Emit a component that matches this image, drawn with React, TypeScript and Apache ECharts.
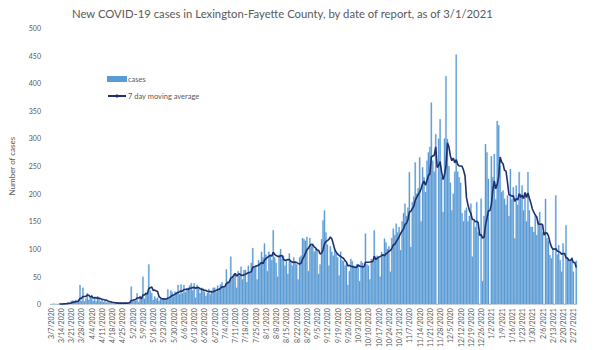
import React, { useEffect, useRef } from "react";
import * as echarts from "echarts";

// Daily new cases, one row per week starting Saturday 3/7/2020, ending 3/1/2021
const casesByWeek: number[][] = [
  [0, 0, 1, 0, 0, 0, 1],
  [1, 0, 2, 1, 2, 3, 2],
  [6, 7, 5, 8, 4, 9, 35],
  [6, 30, 5, 10, 20, 8, 12],
  [17, 6, 12, 5, 15, 10, 5],
  [9, 4, 6, 3, 4, 2, 3],
  [2, 1, 3, 2, 1, 2, 3],
  [2, 1, 3, 2, 3, 4, 32],
  [5, 8, 6, 20, 4, 15, 12],
  [50, 10, 22, 18, 72, 25, 20],
  [8, 14, 10, 12, 6, 10, 8],
  [9, 11, 7, 27, 10, 25, 22],
  [14, 23, 20, 35, 18, 36, 20],
  [35, 22, 26, 30, 34, 38, 25],
  [38, 12, 35, 28, 20, 30, 26],
  [22, 15, 20, 28, 18, 25, 30],
  [30, 22, 34, 28, 36, 40, 32],
  [30, 63, 42, 40, 86, 48, 55],
  [55, 30, 60, 52, 68, 45, 62],
  [62, 40, 70, 58, 75, 102, 66],
  [70, 45, 80, 72, 95, 85, 110],
  [90, 60, 95, 88, 80, 134, 85],
  [75, 50, 90, 100, 82, 88, 70],
  [80, 55, 92, 78, 70, 85, 75],
  [72, 45, 85, 88, 120, 118, 115],
  [122, 60, 120, 105, 110, 95, 100],
  [98, 55, 72, 118, 152, 170, 130],
  [108, 70, 105, 95, 88, 100, 92],
  [85, 52, 95, 80, 78, 70, 75],
  [35, 60, 82, 78, 70, 68, 72],
  [70, 42, 78, 75, 66, 128, 72],
  [70, 45, 82, 78, 134, 85, 88],
  [85, 50, 95, 90, 119, 112, 100],
  [105, 59, 120, 137, 125, 146, 130],
  [140, 98, 150, 165, 182, 160, 175],
  [239, 104, 185, 195, 257, 200, 210],
  [266, 150, 248, 230, 203, 260, 275],
  [285, 365, 260, 240, 308, 0, 300],
  [335, 230, 167, 300, 413, 299, 250],
  [220, 170, 200, 240, 452, 240, 230],
  [220, 165, 150, 170, 175, 150, 160],
  [182, 86, 150, 140, 185, 130, 0],
  [191, 42, 160, 290, 275, 227, 0],
  [268, 230, 272, 190, 332, 324, 250],
  [203, 206, 191, 180, 197, 160, 245],
  [190, 212, 119, 215, 180, 239, 200],
  [215, 170, 197, 150, 239, 170, 140],
  [140, 131, 160, 125, 150, 167, 143],
  [130, 0, 191, 120, 115, 89, 83],
  [100, 0, 197, 90, 107, 80, 59],
  [110, 0, 143, 85, 80, 77, 85],
  [59, 0, 79],
];

const cases: number[] = casesByWeek.flat();

const startYear = 2020;
const startMonthIndex = 2; // March
const startDay = 7;
const dates: string[] = cases.map((_, i) => {
  const d = new Date(startYear, startMonthIndex, startDay + i);
  return `${d.getMonth() + 1}/${d.getDate()}/${d.getFullYear()}`;
});

const WINDOW = 7;
const movingAverage: (number | null)[] = cases.map((_, i) => {
  if (i < WINDOW - 1) return null;
  let s = 0;
  for (let k = i - WINDOW + 1; k <= i; k++) s += cases[k];
  return Math.round((s / WINDOW) * 100) / 100;
});

const Y_MIN = 0;
const Y_MAX = 500;
const Y_STEP = 50;

const FONT = "Lato, 'Open Sans', sans-serif";
const TEXT = "#595959";

export default function App() {
  const ref = useRef<HTMLDivElement>(null);
  useEffect(() => {
    if (!ref.current) return;
    const chart = echarts.init(ref.current, undefined, { renderer: "svg" });
    chart.setOption({
      animation: false,
      backgroundColor: "#ffffff",
      title: {
        text: "New COVID-19 cases in Lexington-Fayette County, by date of report, as of 3/1/2021",
        left: 67,
        top: 3,
        textStyle: { fontSize: 11.3, fontWeight: "normal", color: TEXT, fontFamily: FONT },
      },
      legend: {
        left: 102,
        top: 70,
        orient: "vertical",
        itemWidth: 18,
        itemHeight: 4,
        itemGap: 9,
        textStyle: { fontSize: 7.5, color: TEXT, fontFamily: FONT, padding: [0, 0, 0, -3] },
        data: [
          { name: "cases", icon: "rect" },
          { name: "7 day moving average" },
        ],
      },
      grid: { left: 47, right: 23, top: 28, bottom: 44, containLabel: false },
      xAxis: {
        type: "category",
        data: dates,
        axisTick: { show: false },
        axisLine: { show: true, lineStyle: { color: "#d9d9d9" } },
        axisLabel: {
          rotate: 90,
          interval: 6,
          fontSize: 7,
          color: TEXT,
          fontFamily: FONT,
          margin: 4,
        },
      },
      yAxis: {
        type: "value",
        min: Y_MIN,
        max: Y_MAX,
        interval: Y_STEP,
        splitLine: { show: false },
        axisLine: { show: false },
        axisTick: { show: false },
        axisLabel: { fontSize: 7, color: TEXT, fontFamily: FONT, margin: 9 },
        name: "Number of cases",
        nameLocation: "middle",
        nameGap: 34,
        nameTextStyle: { fontSize: 8, color: TEXT, fontFamily: FONT },
      },
      series: [
        {
          name: "cases",
          type: "bar",
          data: cases,
          barCategoryGap: "0%",
          itemStyle: { color: "#5b9bd5", borderColor: "#5b9bd5", borderWidth: 0.3 },
        },
        {
          name: "7 day moving average",
          type: "line",
          data: movingAverage,
          symbol: "none",
          showSymbol: false,
          connectNulls: false,
          lineStyle: { color: "#1f2f6e", width: 1.6 },
          itemStyle: { color: "#1f2f6e" },
        },
      ],
    });
    return () => chart.dispose();
  }, []);
  return (
    <div
      ref={ref}
      style={{ position: "fixed", left: 0, top: 0, width: 600, height: 350 }}
    />
  );
}
